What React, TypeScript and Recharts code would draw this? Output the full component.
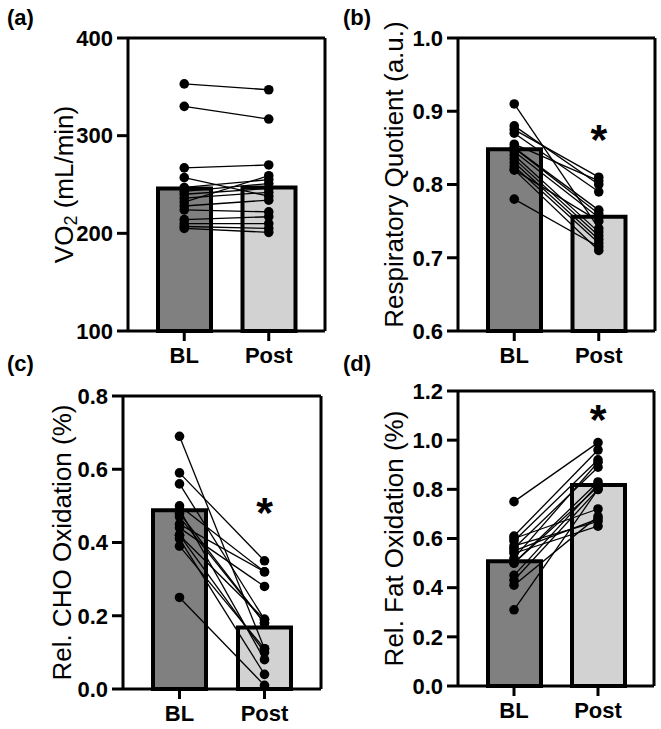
import React from 'react';
import { ComposedChart, Bar, Line, Cell, XAxis, YAxis, ReferenceDot } from 'recharts';

// groups on the x axis
const categories = ['BL', 'Post'];
const barFills = ['#808080', '#d2d2d2'];

// (a) VO2, mL/min
const vo2BL = [353, 330, 267, 257, 247, 243, 240, 236, 232, 228, 224, 214, 210, 207, 205];
const vo2Post = [347, 317, 270, 238, 255, 251, 246, 242, 259, 234, 222, 217, 210, 205, 201];
const vo2Mean = [246, 247];

// (b) respiratory quotient
const rqBL = [0.91, 0.88, 0.875, 0.87, 0.855, 0.85, 0.85, 0.845, 0.84, 0.835, 0.83, 0.825, 0.82, 0.82, 0.78];
const rqPost = [0.74, 0.8, 0.81, 0.79, 0.805, 0.76, 0.765, 0.755, 0.735, 0.73, 0.725, 0.72, 0.71, 0.75, 0.715];
const rqMean = [0.848, 0.756];

// (c) relative CHO oxidation
const choBL = [0.69, 0.59, 0.56, 0.5, 0.49, 0.48, 0.45, 0.44, 0.42, 0.42, 0.41, 0.39, 0.25, 0.47];
const choPost = [0.11, 0.35, 0.19, 0.32, 0.08, 0.18, 0.32, 0.28, 0.1, 0.19, 0.04, 0.11, 0.01, 0.18];
const choMean = [0.488, 0.168];

// (d) relative fat oxidation
const fatBL = [0.75, 0.61, 0.6, 0.59, 0.57, 0.56, 0.55, 0.54, 0.52, 0.5, 0.5, 0.45, 0.43, 0.41, 0.31];
const fatPost = [0.99, 0.96, 0.72, 0.92, 0.67, 0.89, 0.68, 0.65, 0.91, 0.81, 0.83, 0.82, 0.8, 0.69, 0.8];
const fatMean = [0.507, 0.818];

// y ticks
const vo2Ticks = [100, 200, 300, 400];
const rqTicks = [0.6, 0.7, 0.8, 0.9, 1.0];
const choTicks = [0, 0.2, 0.4, 0.6, 0.8];
const fatTicks = [0, 0.2, 0.4, 0.6, 0.8, 1.0, 1.2];

const buildRows = (bl, post, mean) =>
  categories.map((name, c) => {
    const row = { name, mean: mean[c] };
    (c === 0 ? bl : post).forEach((v, i) => {
      row['s' + i] = v;
    });
    return row;
  });

const YTitle = ({ viewBox, x, dy = 0, children }) => {
  const cy = viewBox.y + viewBox.height / 2 + dy;
  return (
    <text
      x={x}
      y={cy}
      transform={`rotate(-90 ${x} ${cy})`}
      textAnchor="middle"
      dominantBaseline="central"
      fontSize={26}
      fill="#000"
    >
      {children}
    </text>
  );
};

const axisStyle = { stroke: '#000', strokeWidth: 3 };

const Panel = ({ left, top, width, height, margin, axisW, rows, n, domain, ticks, digits, title, titleX, titleDy, star, tag, tagPos }) => (
  <div style={{ position: 'absolute', left, top, width, height }}>
    <ComposedChart width={width} height={height} data={rows} margin={margin}>
      <XAxis
        dataKey="name"
        padding={{ left: 14, right: 14 }}
        axisLine={axisStyle}
        tickLine={axisStyle}
        tickSize={10}
        tickMargin={6}
        height={30}
        tick={{ fill: '#000', fontSize: 22, fontWeight: 'bold' }}
      />
      <XAxis xAxisId="t" dataKey="name" orientation="top" height={1} tick={false} tickLine={false} axisLine={axisStyle} />
      <YAxis
        domain={domain}
        ticks={ticks}
        type="number"
        width={axisW}
        axisLine={axisStyle}
        tickLine={axisStyle}
        tickSize={11}
        tickMargin={4}
        interval={0}
        tickFormatter={(v) => v.toFixed(digits)}
        tick={{ fill: '#000', fontSize: 22, fontWeight: 'bold' }}
        label={<YTitle x={titleX} dy={titleDy}>{title}</YTitle>}
      />
      <YAxis yAxisId="r" orientation="right" width={1} domain={[0, 1]} tick={false} tickLine={false} axisLine={axisStyle} />
      <Bar dataKey="mean" barSize={53} stroke="#000" strokeWidth={4} isAnimationActive={false}>
        {rows.map((r, i) => (
          <Cell key={r.name} fill={barFills[i]} />
        ))}
      </Bar>
      {Array.from({ length: n }, (_, i) => (
        <Line
          key={i}
          dataKey={'s' + i}
          stroke="#000"
          strokeWidth={1.3}
          dot={{ r: 4.8, fill: '#000', stroke: '#000', strokeWidth: 0 }}
          activeDot={false}
          isAnimationActive={false}
        />
      ))}
      {star != null && (
        <ReferenceDot
          x="Post"
          y={star}
          r={0}
          fill="none"
          stroke="none"
          label={{ value: '*', position: 'center', fontSize: 43, fontWeight: 'bold', fill: '#000' }}
        />
      )}
    </ComposedChart>
    <div
      style={{
        position: 'absolute',
        left: tagPos[0],
        top: tagPos[1],
        fontSize: 22,
        lineHeight: 1,
        fontWeight: 'bold',
      }}
    >
      {tag}
    </div>
  </div>
);

export default function App() {
  return (
    <div
      style={{
        position: 'relative',
        width: 661,
        height: 729,
        background: '#fff',
        fontFamily: '"Liberation Sans", Arial, sans-serif',
        color: '#000',
      }}
    >
      <style>{'body{margin:0}'}</style>
      <Panel
        left={0}
        top={0}
        width={330}
        height={380}
        margin={{ top: 37, right: 4, bottom: 19, left: 0 }}
        axisW={128}
        rows={buildRows(vo2BL, vo2Post, vo2Mean)}
        n={vo2BL.length}
        domain={[100, 400]}
        ticks={vo2Ticks}
        digits={0}
        title={
          <>
            <tspan>VO</tspan>
            <tspan dy={7} fontSize={18}>2</tspan>
            <tspan dy={-7}> (mL/min)</tspan>
          </>
        }
        titleX={55}
        titleDy={0}
        star={null}
        tag="(a)"
        tagPos={[7, 7]}
      />
      <Panel
        left={330}
        top={0}
        width={331}
        height={380}
        margin={{ top: 37, right: 5, bottom: 19, left: 0 }}
        axisW={128}
        rows={buildRows(rqBL, rqPost, rqMean)}
        n={rqBL.length}
        domain={[0.6, 1.0]}
        ticks={rqTicks}
        digits={1}
        title="Respiratory Quotient (a.u.)"
        titleX={55}
        titleDy={-10}
        star={0.862}
        tag="(b)"
        tagPos={[13, 7]}
      />
      <Panel
        left={0}
        top={364}
        width={330}
        height={365}
        margin={{ top: 31, right: 8, bottom: 10, left: 0 }}
        axisW={123}
        rows={buildRows(choBL, choPost, choMean)}
        n={choBL.length}
        domain={[0, 0.8]}
        ticks={choTicks}
        digits={1}
        title="Rel. CHO Oxidation (%)"
        titleX={60}
        titleDy={0}
        star={0.483}
        tag="(c)"
        tagPos={[7, -11]}
      />
      <Panel
        left={330}
        top={364}
        width={331}
        height={365}
        margin={{ top: 26, right: 6, bottom: 13, left: 0 }}
        axisW={128}
        rows={buildRows(fatBL, fatPost, fatMean)}
        n={fatBL.length}
        domain={[0, 1.2]}
        ticks={fatTicks}
        digits={1}
        title="Rel. Fat Oxidation (%)"
        titleX={65}
        titleDy={0}
        star={1.089}
        tag="(d)"
        tagPos={[13, -11]}
      />
    </div>
  );
}
